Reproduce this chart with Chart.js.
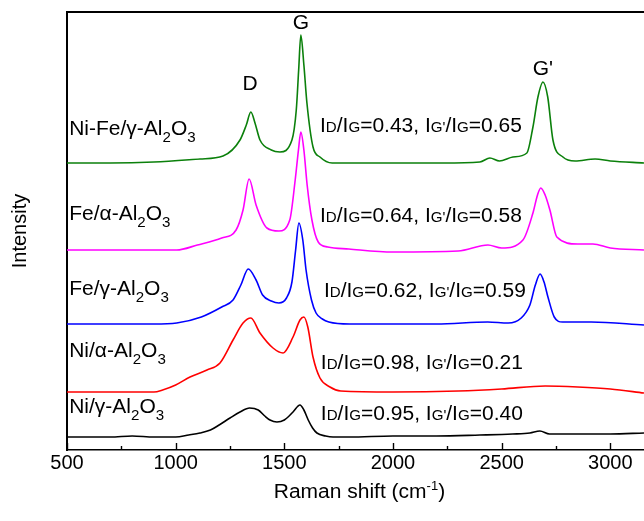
<!DOCTYPE html>
<html>
<head>
<meta charset="utf-8">
<script src="https://cdn.jsdelivr.net/npm/chart.js@4.4.0/dist/chart.umd.min.js"></script>
<style>
html, body { margin: 0; padding: 0; background: #fff; }
#wrap { width: 644px; height: 521px; }
</style>
</head>
<body>
<div id="wrap"><canvas id="raman"></canvas></div>
<script>
// Raman spectra, stacked (a.u.)

// Ni/gamma-Al2O3 (black)
const shiftNiGamma = [500, 600, 700, 800, 900, 1000, 1060, 1112, 1160, 1200, 1250, 1296, 1340, 1380, 1410, 1434, 1466, 1500, 1540, 1572, 1590, 1610, 1630, 1650, 1690, 1724, 1800, 2000, 2200, 2400, 2550, 2630, 2676, 2720, 2800, 3000, 3155];
const intNiGamma   = [13, 13, 13, 14, 13, 13, 15, 17, 20, 25, 32, 38, 42, 40, 34, 30, 28, 30, 38, 45, 40, 30, 22, 17, 14, 13, 13, 14, 14, 15, 16, 17, 19, 16, 16, 16, 17];

// Ni/alpha-Al2O3 (red)
const shiftNiAlpha = [500, 700, 900, 940, 1000, 1066, 1144, 1204, 1264, 1310, 1346, 1388, 1448, 1494, 1540, 1572, 1590, 1608, 1632, 1664, 1710, 1760, 2000, 2300, 2500, 2700, 2850, 3000, 3155];
const intNiAlpha   = [58, 58, 58, 60, 65, 73, 80, 87, 110, 127, 132, 117, 102, 97, 113, 130, 133, 123, 93, 72, 63, 59, 58, 59, 61, 64, 63, 61, 57];

// Fe/gamma-Al2O3 (blue)
const shiftFeGamma = [500, 700, 900, 1005, 1118, 1212, 1264, 1300, 1334, 1370, 1400, 1440, 1475, 1510, 1535, 1552, 1567, 1585, 1600, 1625, 1646, 1675, 1705, 1800, 2000, 2200, 2436, 2530, 2590, 2630, 2655, 2677, 2695, 2713, 2742, 2780, 2912, 3155];
const intFeGamma   = [126, 126, 126, 127, 133, 143, 150, 165, 181, 170, 155, 149, 147, 152, 168, 200, 227, 210, 180, 150, 137, 131, 128, 126, 126, 126, 128, 127, 132, 145, 165, 176, 168, 153, 133, 128, 128, 125];

// Fe/alpha-Al2O3 (magenta)
const shiftFeAlpha = [500, 800, 1005, 1100, 1212, 1278, 1310, 1338, 1370, 1420, 1475, 1525, 1550, 1565, 1576, 1590, 1605, 1627, 1656, 1700, 1797, 2000, 2300, 2437, 2500, 2598, 2644, 2665, 2680, 2700, 2722, 2754, 2850, 2920, 3000, 3155];
const intFeAlpha   = [200, 200, 200, 205, 212, 220, 240, 271, 245, 222, 219, 230, 270, 300, 318, 300, 265, 230, 208, 203, 201, 198, 199, 205, 202, 210, 237, 255, 262, 255, 240, 213, 206, 206, 202, 200];

// Ni-Fe/gamma-Al2O3 (green)
const shiftNiFe = [500, 700, 900, 1112, 1218, 1296, 1325, 1346, 1365, 1388, 1440, 1480, 1535, 1555, 1566, 1576, 1590, 1604, 1632, 1664, 1720, 2000, 2230, 2400, 2446, 2490, 2552, 2616, 2644, 2667, 2690, 2712, 2736, 2782, 2838, 2930, 3000, 3155];
const intNiFe   = [287, 287, 288, 291, 294, 310, 325, 338, 327, 310, 300, 298, 310, 340, 380, 415, 385, 347, 303, 293, 287, 287, 287, 288, 292, 289, 293, 297, 323, 353, 368, 353, 310, 293, 289, 291, 289, 287];

const xMajorTicks = [500, 1000, 1500, 2000, 2500, 3000];
const xMinorTicks = [750, 1250, 1750, 2250, 2750];

const FONT = '"Liberation Sans", Arial, sans-serif';
const TXT = 20;      // annotation font size
const STRETCH = 1.05; // source lettering is a touch wide

function pts(xs, ys) {
  return xs.map((x, i) => ({ x: x, y: ys[i] }));
}

function line(label, xs, ys, color) {
  return {
    label: label,
    data: pts(xs, ys),
    borderColor: color,
    borderWidth: 1.6,
    pointRadius: 0,
    showLine: true,
    fill: false,
    cubicInterpolationMode: 'monotone'
  };
}

// rich text: [text, kind]  kind '' | 'sub' | 'sup' | 'sc' (small, on baseline)
function richWidth(ctx, parts, size) {
  let w = 0;
  parts.forEach(([t, k]) => {
    const s = k ? size * 0.72 : size;
    ctx.font = s + 'px ' + FONT;
    w += ctx.measureText(t).width;
  });
  return w * STRETCH;
}
function drawRich(ctx, parts, x, yMid, size, align) {
  const x0 = align === 'center' ? x - richWidth(ctx, parts, size) / 2 : x;
  const base = yMid + size * 0.36;
  ctx.save();
  ctx.translate(x0, 0);
  ctx.scale(STRETCH, 1);
  ctx.textAlign = 'left';
  ctx.textBaseline = 'alphabetic';
  let cx = 0;
  parts.forEach(([t, k]) => {
    let s = size, dy = 0;
    if (k === 'sub') { s = size * 0.72; dy = size * 0.34; }
    if (k === 'sup') { s = size * 0.62; dy = -size * 0.42; }
    if (k === 'sc') { s = size * 0.72; }
    ctx.font = s + 'px ' + FONT;
    ctx.fillText(t, cx, base + dy);
    cx += ctx.measureText(t).width;
  });
  ctx.restore();
}

function ratio(a, b) {
  return [['I', ''], ['D', 'sc'], ['/I', ''], ['G', 'sc'], ['=' + a + ', I', ''], ["G'", 'sc'], ['/I', ''], ['G', 'sc'], ['=' + b, '']];
}
function sample(metal, phase) {
  return [[metal + '/' + phase + '-Al', ''], ['2', 'sub'], ['O', ''], ['3', 'sub']];
}

// annotation placement in data units (cm-1, a.u.)
const sampleLabels = [
  { parts: sample('Ni-Fe', 'γ'), x: 510, y: 322 },
  { parts: sample('Fe', 'α'), x: 510, y: 237 },
  { parts: sample('Fe', 'γ'), x: 510, y: 162 },
  { parts: sample('Ni', 'α'), x: 510, y: 100 },
  { parts: sample('Ni', 'γ'), x: 510, y: 44 }
];
const ratioLabels = [
  { parts: ratio('0.43', '0.65'), x: 1664, y: 325 },
  { parts: ratio('0.64', '0.58'), x: 1664, y: 235 },
  { parts: ratio('0.62', '0.59'), x: 1682, y: 160 },
  { parts: ratio('0.98', '0.21'), x: 1668, y: 88 },
  { parts: ratio('0.95', '0.40'), x: 1668, y: 37 }
];
const peakLabels = [
  { parts: [['D', '']], x: 1342, y: 367 },
  { parts: [['G', '']], x: 1576, y: 428 },
  { parts: [["G'", '']], x: 2690, y: 382 }
];

const frame = {
  id: 'frame',
  afterDraw(chart) {
    const { ctx, chartArea: a, scales: { x, y } } = chart;
    ctx.save();
    ctx.strokeStyle = '#000';
    ctx.lineWidth = 2;
    ctx.beginPath();
    ctx.moveTo(a.left - 1, a.top);
    ctx.lineTo(a.right, a.top);
    ctx.stroke();
    // inward ticks
    ctx.lineWidth = 1.4;
    xMajorTicks.concat(xMinorTicks).forEach(v => {
      const px = Math.round(x.getPixelForValue(v)) + 0.5;
      const len = xMajorTicks.includes(v) ? 7 : 4;
      ctx.beginPath();
      ctx.moveTo(px, a.bottom);
      ctx.lineTo(px, a.bottom - len);
      ctx.stroke();
    });
    ctx.fillStyle = '#000';
    sampleLabels.forEach(l => drawRich(ctx, l.parts, x.getPixelForValue(l.x), y.getPixelForValue(l.y), TXT, 'left'));
    ratioLabels.forEach(l => drawRich(ctx, l.parts, x.getPixelForValue(l.x), y.getPixelForValue(l.y), TXT, 'left'));
    peakLabels.forEach(l => drawRich(ctx, l.parts, x.getPixelForValue(l.x), y.getPixelForValue(l.y), TXT, 'center'));
    // x title with superscript
    drawRich(ctx, [['Raman shift (cm', ''], ['-1', 'sup'], [')', '']],
      x.getPixelForValue(1850), 491, TXT, 'center');
    ctx.restore();
  }
};

new Chart(document.getElementById('raman'), {
  type: 'scatter',
  data: {
    datasets: [
      line('Ni/γ-Al2O3', shiftNiGamma, intNiGamma, '#000000'),
      line('Ni/α-Al2O3', shiftNiAlpha, intNiAlpha, '#ff0000'),
      line('Fe/γ-Al2O3', shiftFeGamma, intFeGamma, '#0000ff'),
      line('Fe/α-Al2O3', shiftFeAlpha, intFeAlpha, '#ff00ff'),
      line('Ni-Fe/γ-Al2O3', shiftNiFe, intNiFe, '#0b800b')
    ]
  },
  options: {
    responsive: true,
    maintainAspectRatio: false,
    animation: false,
    layout: { padding: { top: 12, right: 0, left: 0, bottom: 0 } },
    plugins: { legend: { display: false }, tooltip: { enabled: false } },
    scales: {
      x: {
        type: 'linear',
        min: 500,
        max: 3155,
        afterBuildTicks: s => { s.ticks = xMajorTicks.map(v => ({ value: v })); },
        afterFit: s => { s.height = 71; },
        grid: { display: false, drawTicks: false },
        border: { display: true, color: '#000', width: 1.6 },
        ticks: { color: '#000', padding: 1, font: { family: FONT, size: 20 }, callback: v => String(v) },
        title: { display: false }
      },
      y: {
        min: 0,
        max: 438,
        afterFit: s => { s.width = 67; },
        grid: { display: false, drawTicks: false },
        border: { display: true, color: '#000', width: 2 },
        ticks: { display: false },
        title: { display: true, text: 'Intensity', color: '#000', padding: { top: 8, bottom: 0 }, font: { family: FONT, size: 20 } }
      }
    }
  },
  plugins: [frame]
});
</script>
</body>
</html>
